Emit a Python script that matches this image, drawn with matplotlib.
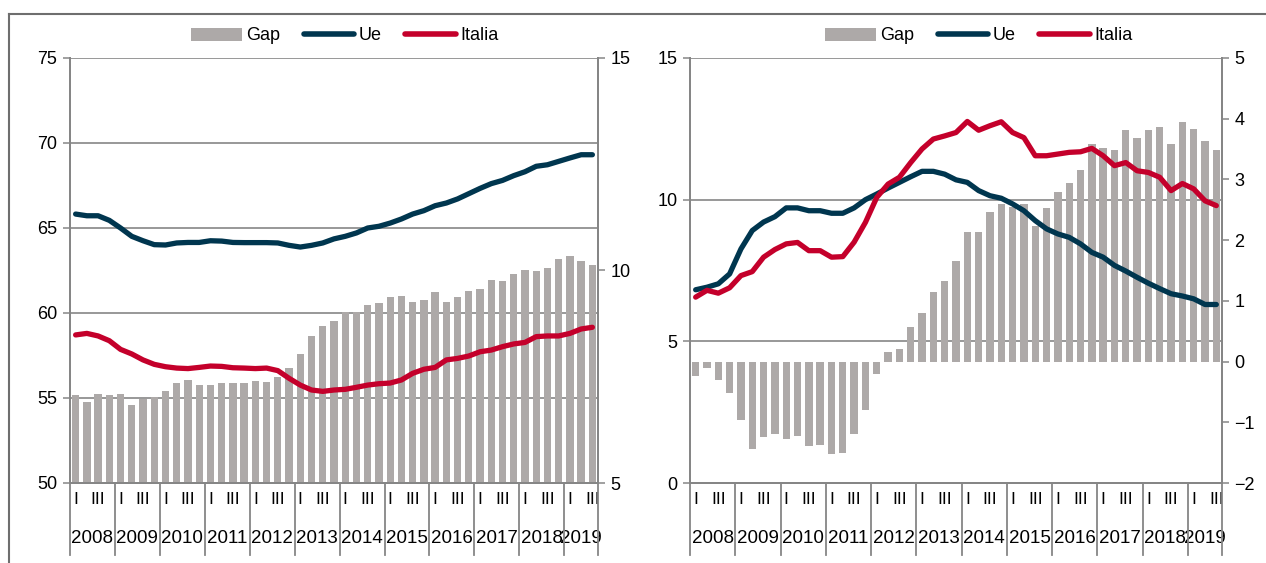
import matplotlib
matplotlib.use("Agg")
import matplotlib.pyplot as plt
from matplotlib.lines import Line2D
from matplotlib.patches import Patch
from matplotlib.transforms import blended_transform_factory

plt.rcParams['font.family'] = ['Liberation Sans', 'DejaVu Sans']

years = ['2008', '2009', '2010', '2011', '2012', '2013', '2014', '2015',
         '2016', '2017', '2018', '2019']
quarters_per_year = [4, 4, 4, 4, 4, 4, 4, 4, 4, 4, 4, 3]
quarter_labels = ['I', '', 'III', '']

left_gap = [7.07, 6.91, 7.09, 7.07, 7.09, 6.84, 6.97, 7.03, 7.17, 7.36, 7.42, 7.31,
            7.31, 7.35, 7.35, 7.35, 7.40, 7.38, 7.50, 7.71, 8.04, 8.47, 8.69, 8.80,
            9.02, 9.03, 9.18, 9.24, 9.38, 9.39, 9.27, 9.30, 9.49, 9.26, 9.38, 9.52,
            9.57, 9.78, 9.76, 9.92, 10.02, 9.98, 10.07, 10.28, 10.34, 10.22, 10.13]
left_ue = [65.82, 65.72, 65.72, 65.45, 65.0, 64.51, 64.25, 64.02, 64.0, 64.12, 64.15, 64.15,
           64.25, 64.23, 64.15, 64.14, 64.14, 64.14, 64.12, 63.98, 63.88, 63.98, 64.12, 64.36,
           64.51, 64.71, 65.0, 65.1, 65.29, 65.53, 65.82, 66.02, 66.31, 66.47, 66.71, 67.02,
           67.33, 67.61, 67.8, 68.08, 68.31, 68.63, 68.72, 68.92, 69.12, 69.31, 69.31]
left_it = [58.71, 58.8, 58.65, 58.37, 57.86, 57.59, 57.24, 56.98, 56.84, 56.76, 56.73, 56.80,
           56.88, 56.86, 56.78, 56.76, 56.73, 56.76, 56.61, 56.16, 55.76, 55.47, 55.39, 55.47,
           55.51, 55.63, 55.76, 55.84, 55.88, 56.06, 56.45, 56.69, 56.80, 57.24, 57.33, 57.47,
           57.72, 57.82, 58.02, 58.18, 58.27, 58.61, 58.65, 58.65, 58.8, 59.06, 59.16]

right_gap = [-0.23, -0.11, -0.31, -0.52, -0.96, -1.44, -1.25, -1.19, -1.28, -1.22, -1.39, -1.38,
             -1.53, -1.50, -1.20, -0.80, -0.20, 0.15, 0.21, 0.57, 0.80, 1.14, 1.33, 1.65,
             2.13, 2.13, 2.47, 2.60, 2.54, 2.60, 2.23, 2.53, 2.79, 2.94, 3.16, 3.59,
             3.52, 3.49, 3.82, 3.68, 3.81, 3.87, 3.59, 3.94, 3.83, 3.64, 3.48]
right_ue = [6.82, 6.91, 7.03, 7.38, 8.26, 8.91, 9.21, 9.40, 9.71, 9.71, 9.61, 9.61,
            9.52, 9.52, 9.71, 10.0, 10.20, 10.41, 10.61, 10.81, 11.0, 11.0, 10.90, 10.70,
            10.61, 10.32, 10.14, 10.05, 9.85, 9.61, 9.26, 8.97, 8.79, 8.67, 8.44, 8.14,
            7.97, 7.68, 7.48, 7.26, 7.05, 6.86, 6.68, 6.60, 6.50, 6.30, 6.30]
right_it = [6.56, 6.80, 6.70, 6.89, 7.32, 7.46, 7.97, 8.24, 8.44, 8.49, 8.20, 8.20,
            7.97, 7.99, 8.50, 9.20, 10.08, 10.55, 10.79, 11.31, 11.79, 12.14, 12.25, 12.37,
            12.76, 12.45, 12.61, 12.75, 12.37, 12.19, 11.55, 11.55, 11.61, 11.67, 11.69, 11.81,
            11.55, 11.20, 11.31, 11.02, 10.96, 10.79, 10.32, 10.57, 10.38, 9.96, 9.79]

C_GAP = '#ADA9A8'
C_UE = '#00364F'
C_IT = '#C4002B'
C_AX = '#868686'

W, H = 1266, 563
fig = plt.figure(figsize=(W / 100, H / 100), dpi=100)


def px_rect(x0, x1, ytop, ybot):
    return [x0 / W, (H - ybot) / H, (x1 - x0) / W, (ybot - ytop) / H]


def panel(rect, gap, ue, it, llim, lticks, lgrid, rlim, rticks, legend_x):
    axb = fig.add_axes(rect)          # bars (right scale)
    axl = axb.twinx()                 # lines (left scale)
    axl.yaxis.tick_left()
    axb.yaxis.tick_right()
    axl.set_zorder(axb.get_zorder() + 1)
    axl.patch.set_visible(False)

    n = len(gap)
    x = list(range(n))
    axb.bar(x, gap, width=0.65, color=C_GAP, zorder=2)
    axb.set_ylim(*rlim)
    axb.set_yticks(rticks)
    axl.plot(x, ue, color=C_UE, lw=3.8, solid_capstyle='round', solid_joinstyle='round')
    axl.plot(x, it, color=C_IT, lw=3.8, solid_capstyle='round', solid_joinstyle='round')
    axl.set_ylim(*llim)
    axl.set_yticks(lticks)
    axb.set_xlim(-0.5, n - 0.5)

    tr = blended_transform_factory(axb.transAxes, axl.transData)
    for g in lgrid:
        axb.plot([0, 1], [g, g], transform=tr, color=C_AX, lw=1.2, zorder=1)

    for a in (axb, axl):
        a.set_xticks([])
        for s in a.spines.values():
            s.set_color(C_AX)
            s.set_linewidth(1.4)
        a.spines['top'].set_visible(False)
        a.tick_params(axis='y', direction='out', length=5, width=1.1, color=C_AX,
                      labelsize=13, pad=4, labelcolor='black')

    tx = blended_transform_factory(axb.transData, axb.transAxes)
    start = 0
    bounds = [-0.5]
    for yr, nq in zip(years, quarters_per_year):
        for q in range(nq):
            if quarter_labels[q]:
                axb.text(start + q, -0.04, quarter_labels[q], transform=tx,
                         ha='center', va='center', fontsize=12.5)
        axb.text(start + (nq - 1) / 2, -0.13, yr, transform=tx,
                 ha='center', va='center', fontsize=13.5)
        start += nq
        bounds.append(start - 0.5)
    for b in bounds:
        axb.plot([b, b], [0, -0.17], transform=tx, color=C_AX, lw=1.3,
                 clip_on=False, zorder=3)

    handles = [Patch(facecolor=C_GAP, edgecolor='none'),
               Line2D([], [], color=C_UE, lw=4, solid_capstyle='round'),
               Line2D([], [], color=C_IT, lw=4, solid_capstyle='round')]
    fig.legend(handles, ['Gap', 'Ue', 'Italia'], loc='center',
               bbox_to_anchor=(legend_x, 1 - 36 / H), ncol=3, frameon=False,
               fontsize=13, handlelength=2.8, handletextpad=0.25,
               columnspacing=1.3, handleheight=0.7)
    return axb, axl


panel(px_rect(70, 598, 58, 483), left_gap, left_ue, left_it,
      (50, 75), [50, 55, 60, 65, 70, 75], [55, 60, 65, 70, 75],
      (5, 15), [5, 10, 15], 345 / W)
panel(px_rect(690, 1222, 58, 483), right_gap, right_ue, right_it,
      (0, 15), [0, 5, 10, 15], [5, 10, 15],
      (-2, 5), [-2, -1, 0, 1, 2, 3, 4, 5], 979 / W)

fig.add_artist(Line2D([9 / W, 1], [1 - 14 / H, 1 - 14 / H], transform=fig.transFigure,
                      color='#6e6e6e', lw=1.5))
fig.add_artist(Line2D([9 / W, 9 / W], [0, 1 - 14 / H], transform=fig.transFigure,
                      color='#6e6e6e', lw=1.5))

fig.savefig('out.png', dpi=100)
